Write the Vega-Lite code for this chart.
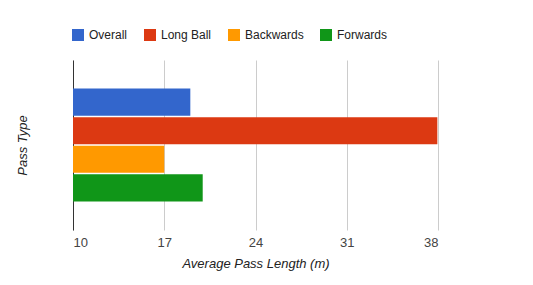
{
  "$schema": "https://vega.github.io/schema/vega-lite/v6.json",
  "width": 365,
  "height": 170,
  "autosize": {"type": "none"},
  "padding": {"left": 73, "top": 60, "right": 95, "bottom": 55},
  "background": "white",
  "config": {
    "font": "Arial, Liberation Sans, sans-serif",
    "view": {"stroke": null}
  },
  "data": {
    "values": [
      {"Pass Type": "Overall", "Average Pass Length (m)": 19.0},
      {"Pass Type": "Long Ball", "Average Pass Length (m)": 37.95},
      {"Pass Type": "Backwards", "Average Pass Length (m)": 17.0},
      {"Pass Type": "Forwards", "Average Pass Length (m)": 19.95}
    ]
  },
  "mark": {"type": "bar"},
  "encoding": {
    "y": {
      "field": "Pass Type",
      "type": "nominal",
      "sort": ["Overall", "Long Ball", "Backwards", "Forwards"],
      "scale": {"paddingInner": 0.05, "paddingOuter": 1.336},
      "axis": {
        "labels": false,
        "ticks": false,
        "tickSize": 0,
        "grid": false,
        "domain": true,
        "domainColor": "#333333",
        "domainWidth": 1,
        "title": "Pass Type",
        "titleFontStyle": "italic",
        "titleFontWeight": "normal",
        "titleFontSize": 13,
        "titleColor": "#222222",
        "titlePadding": 44
      }
    },
    "x": {
      "field": "Average Pass Length (m)",
      "type": "quantitative",
      "scale": {"domain": [10, 38], "nice": false, "zero": false},
      "axis": {
        "values": [10, 17, 24, 31, 38],
        "domain": false,
        "ticks": false,
        "tickSize": 0,
        "grid": true,
        "gridColor": "#cccccc",
        "labelColor": "#444444",
        "labelFontSize": 13,
        "labelPadding": 6,
        "title": "Average Pass Length (m)",
        "titleFontStyle": "italic",
        "titleFontWeight": "normal",
        "titleFontSize": 13,
        "titleColor": "#222222",
        "titlePadding": 8
      }
    },
    "x2": {"datum": 10},
    "color": {
      "field": "Pass Type",
      "type": "nominal",
      "sort": ["Overall", "Long Ball", "Backwards", "Forwards"],
      "scale": {
        "domain": ["Overall", "Long Ball", "Backwards", "Forwards"],
        "range": ["#3366cc", "#dc3912", "#ff9900", "#109618"]
      },
      "legend": {
        "orient": "none",
        "direction": "horizontal",
        "legendX": -1,
        "legendY": -31,
        "title": null,
        "symbolType": "square",
        "symbolSize": 144,
        "symbolStrokeWidth": 0,
        "labelFontSize": 12,
        "labelColor": "#222222",
        "labelOffset": 5,
        "columnPadding": 16
      }
    }
  }
}
